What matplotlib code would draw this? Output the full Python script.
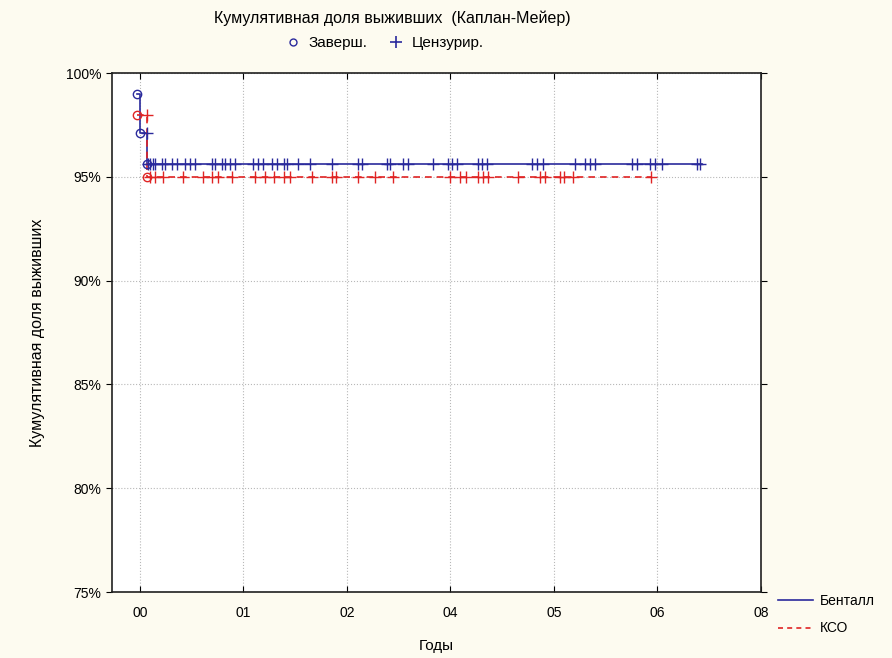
import matplotlib.pyplot as plt
from matplotlib.lines import Line2D

plt.rcParams['font.family'] = ['Liberation Sans', 'DejaVu Sans']

# events (circles): time in years, survival %
blue_t = [-0.04, 0.0, 0.09]
blue_s = [99.0, 97.1, 95.6]
red_t = [-0.04, 0.09]
red_s = [98.0, 95.0]
blue_end = 7.24
red_end = 6.58

# censored (+) times
blue_cens_97 = [0.09]
blue_cens = [0.10, 0.13, 0.17, 0.19, 0.28, 0.32, 0.41, 0.48, 0.58, 0.64, 0.71,
             0.93, 0.97, 1.06, 1.10, 1.16, 1.22, 1.46, 1.52, 1.59, 1.70, 1.77,
             1.85, 1.90, 2.04, 2.19, 2.47, 2.81, 2.86, 3.18, 3.22, 3.39, 3.45,
             3.78, 3.97, 4.02, 4.09, 4.36, 4.41, 4.47, 5.05, 5.12, 5.19, 5.61,
             5.73, 5.80, 5.86, 6.34, 6.40, 6.57, 6.64, 6.73, 7.18, 7.22]
red_cens_98 = [0.09]
red_cens = [0.13, 0.19, 0.30, 0.55, 0.81, 0.93, 1.00, 1.19, 1.48, 1.61, 1.73,
            1.86, 1.93, 2.22, 2.47, 2.53, 2.81, 3.03, 3.26, 4.00, 4.12, 4.20,
            4.36, 4.42, 4.48, 4.87, 5.15, 5.22, 5.41, 5.46, 5.58, 6.58]

xticks = [0, 4/3, 8/3, 4, 16/3, 20/3, 8]
xlabels = ['00', '01', '02', '04', '05', '06', '08']
yticks = [75, 80, 85, 90, 95, 100]

blue = '#2a2a9c'
red = '#e02424'

fig = plt.figure(figsize=(8.92, 6.58), dpi=100, facecolor='#fdfbf0')
ax = fig.add_axes([0.1256, 0.1003, 0.7275, 0.7887])
ax.set_facecolor('white')

# step curves
ax.step(blue_t + [blue_end], blue_s + [blue_s[-1]], where='post', color=blue, lw=1.2)
ax.step(red_t + [red_end], red_s + [red_s[-1]], where='post', color=red, lw=1.2,
        linestyle=(0, (4, 3)))

ax.plot(blue_t, blue_s, 'o', mfc='none', mec=blue, ms=6, mew=1)
ax.plot(red_t, red_s, 'o', mfc='none', mec=red, ms=6, mew=1)
ax.plot(blue_cens_97, [blue_s[1]] * len(blue_cens_97), '+', color=blue, ms=8, mew=1)
ax.plot(blue_cens, [blue_s[-1]] * len(blue_cens), '+', color=blue, ms=8, mew=1)
ax.plot(red_cens_98, [red_s[0]] * len(red_cens_98), '+', color=red, ms=8, mew=1)
ax.plot(red_cens, [red_s[-1]] * len(red_cens), '+', color=red, ms=8, mew=1)

ax.set_xlim(-0.36, 8)
ax.set_ylim(75, 100)
ax.set_xticks(xticks)
ax.set_xticklabels(xlabels, fontsize=10)
ax.set_yticks(yticks)
ax.set_yticklabels([f'{v}%' for v in yticks], fontsize=10)
ax.tick_params(axis='x', direction='in', top=True, length=4, pad=10)
ax.tick_params(axis='y', direction='out', length=4, right=True)
ax.grid(True, color='#b8b8b8', linestyle=':', linewidth=0.8)
for s in ax.spines.values():
    s.set_color('#202020')
    s.set_linewidth(1.2)

ax.set_xlabel('Годы', fontsize=11, labelpad=14)
ax.set_ylabel('Кумулятивная доля выживших', fontsize=11.5, labelpad=15)

fig.text(0.44, 0.972, 'Кумулятивная доля выживших  (Каплан-Мейер)',
         ha='center', va='center', fontsize=11.5)

h1 = Line2D([], [], marker='o', ls='none', mfc='none', mec=blue, ms=5)
h2 = Line2D([], [], marker='+', ls='none', color=blue, ms=8, mew=1.2)
fig.legend([h1, h2], ['Заверш.', 'Цензурир.'], loc='center', ncol=2,
           bbox_to_anchor=(0.43, 0.934), frameon=False, fontsize=11,
           handletextpad=0.4, columnspacing=1.3, handlelength=1.2)

h3 = Line2D([], [], color=blue, lw=1.2)
h4 = Line2D([], [], color=red, lw=1.2, linestyle=(0, (3, 2.5)))
fig.legend([h3, h4], ['Бенталл', 'КСО'], loc='upper left',
           bbox_to_anchor=(0.872, 0.098), frameon=False, fontsize=10,
           handletextpad=0.5, handlelength=2.5, labelspacing=1.0,
           borderaxespad=0, borderpad=0)

fig.savefig('out.png', dpi=100, facecolor=fig.get_facecolor())
